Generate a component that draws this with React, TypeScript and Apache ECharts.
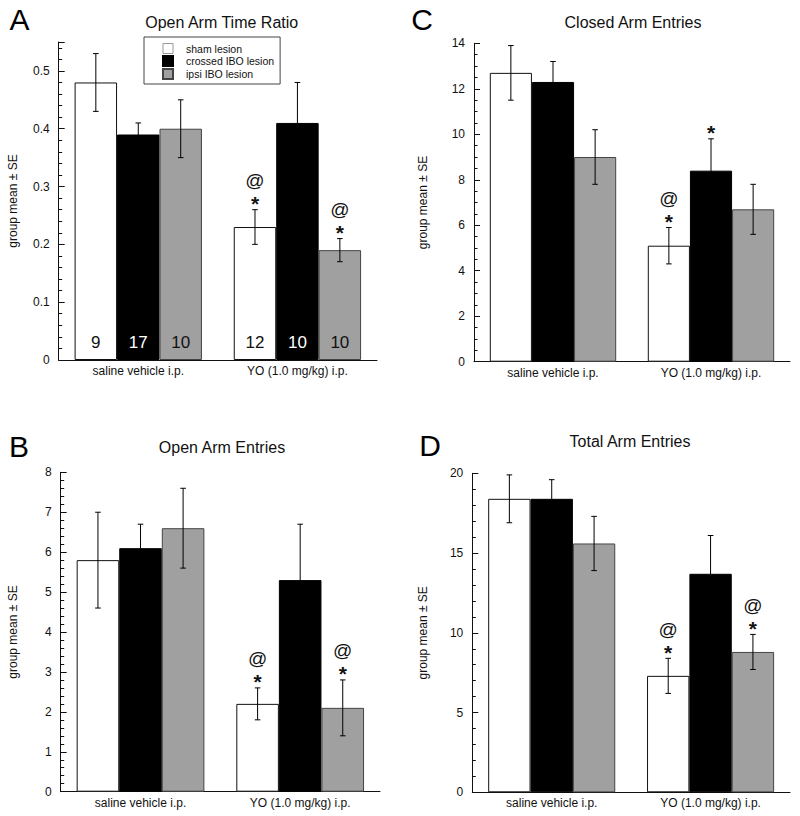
import React, { useEffect, useRef } from "react";
import * as echarts from "echarts";

const categories = ["saline vehicle i.p.", "YO (1.0 mg/kg) i.p."];
const groups = ["sham lesion", "crossed IBO lesion", "ipsi IBO lesion"];

// Panel A: Open Arm Time Ratio
const aMeans = [[0.48, 0.23], [0.39, 0.41], [0.40, 0.19]];
const aSE = [[0.05, 0.03], [0.02, 0.07], [0.05, 0.02]];
const aN = [[9, 12], [17, 10], [10, 10]];
const aMarks = [["", "@*"], ["", ""], ["", "@*"]];

// Panel C: Closed Arm Entries
const cMeans = [[12.7, 5.1], [12.3, 8.4], [9.0, 6.7]];
const cSE = [[1.2, 0.8], [0.9, 1.4], [1.2, 1.1]];
const cMarks = [["", "@*"], ["", "*"], ["", ""]];

// Panel B: Open Arm Entries
const bMeans = [[5.8, 2.2], [6.1, 5.3], [6.6, 2.1]];
const bSE = [[1.2, 0.4], [0.6, 1.4], [1.0, 0.7]];
const bMarks = [["", "@*"], ["", ""], ["", "@*"]];

// Panel D: Total Arm Entries
const dMeans = [[18.4, 7.3], [18.4, 13.7], [15.6, 8.8]];
const dSE = [[1.5, 1.1], [1.2, 2.4], [1.7, 1.1]];
const dMarks = [["", "@*"], ["", ""], ["", "@*"]];

const FONT = "'Liberation Sans', Arial, Helvetica, sans-serif";
const groupFill = ["#ffffff", "#000000", "#a0a0a0"];
const groupBorder = ["#111111", "#000000", "#444444"];
const nLabelColor = ["#111111", "#ffffff", "#111111"];

type Panel = {
  letter: string;
  title: string;
  grid: { left: number; top: number; width: number; height: number };
  max: number;
  interval: number;
  minorSplit: number;
  decimals: number;
  nameGap: number;
  means: number[][];
  se: number[][];
  marks: string[][];
  n?: number[][];
  letterPos: [number, number];
  titlePos: [number, number];
};

const panels: Panel[] = [
  {
    letter: "A", title: "Open Arm Time Ratio",
    grid: { left: 58.7, top: 42, width: 318.3, height: 318 },
    max: 0.55, interval: 0.1, minorSplit: 5, decimals: 1, nameGap: 40,
    means: aMeans, se: aSE, marks: aMarks, n: aN,
    letterPos: [19.5, 19.5], titlePos: [221.7, 22.5],
  },
  {
    letter: "C", title: "Closed Arm Entries",
    grid: { left: 474, top: 43.3, width: 316, height: 318.4 },
    max: 14, interval: 2, minorSplit: 4, decimals: 0, nameGap: 45,
    means: cMeans, se: cSE, marks: cMarks,
    letterPos: [422, 19.5], titlePos: [633, 22],
  },
  {
    letter: "B", title: "Open Arm Entries",
    grid: { left: 60.7, top: 472.3, width: 319.3, height: 319.4 },
    max: 8, interval: 1, minorSplit: 5, decimals: 0, nameGap: 42,
    means: bMeans, se: bSE, marks: bMarks,
    letterPos: [19, 446], titlePos: [222, 447.5],
  },
  {
    letter: "D", title: "Total Arm Entries",
    grid: { left: 472.3, top: 473.3, width: 317.7, height: 319 },
    max: 20, interval: 5, minorSplit: 5, decimals: 0, nameGap: 43,
    means: dMeans, se: dSE, marks: dMarks,
    letterPos: [430, 445], titlePos: [630, 441],
  },
];

function buildOption() {
  const grids: any[] = [];
  const xAxes: any[] = [];
  const yAxes: any[] = [];
  const series: any[] = [];
  const graphics: any[] = [];

  panels.forEach((p, pi) => {
    grids.push({ ...p.grid, containLabel: false });
    xAxes.push({
      type: "category",
      gridIndex: pi,
      data: categories,
      axisLine: { lineStyle: { color: "#111", width: 1 } },
      axisTick: { show: false },
      axisLabel: { color: "#111", fontSize: 12, fontFamily: FONT, margin: 5 },
    });
    yAxes.push({
      type: "value",
      gridIndex: pi,
      min: 0,
      max: p.max,
      interval: p.interval,
      name: "group mean ± SE",
      nameLocation: "middle",
      nameGap: p.nameGap,
      nameTextStyle: { color: "#111", fontSize: 12, fontFamily: FONT },
      axisLine: { show: true, lineStyle: { color: "#111", width: 1 } },
      axisTick: { show: true, inside: true, length: 6, lineStyle: { color: "#111" } },
      minorTick: { show: true, splitNumber: p.minorSplit, length: 3.5, lineStyle: { color: "#111" } },
      splitLine: { show: false },
      axisLabel: {
        color: "#111", fontSize: 12, fontFamily: FONT, margin: 9,
        formatter: (v: number) => {
          const k = v / p.interval;
          if (Math.abs(k - Math.round(k)) > 1e-6) return "";
          if (v === 0) return "0";
          return v.toFixed(p.decimals);
        },
      },
    });

    groups.forEach((g, gi) => {
      const s: any = {
        type: "bar",
        name: g,
        xAxisIndex: pi,
        yAxisIndex: pi,
        data: p.means[gi],
        barGap: "0%",
        barCategoryGap: "20%",
        itemStyle: { color: groupFill[gi], borderColor: groupBorder[gi], borderWidth: 1 },
        emphasis: { disabled: true },
        z: 2,
      };
      if (p.n) {
        const nArr = p.n[gi];
        s.label = {
          show: true,
          position: "insideBottom",
          distance: 9,
          formatter: (prm: any) => String(nArr[prm.dataIndex]),
          color: nLabelColor[gi],
          fontSize: 17,
          fontFamily: FONT,
        };
      }
      series.push(s);
    });

    const errData: number[][] = [];
    const markList: string[] = [];
    groups.forEach((_, gi) => {
      categories.forEach((__, ci) => {
        errData.push([ci, p.means[gi][ci], p.se[gi][ci], gi]);
        markList.push(p.marks[gi][ci]);
      });
    });

    series.push({
      type: "custom",
      name: "err" + pi,
      xAxisIndex: pi,
      yAxisIndex: pi,
      z: 5,
      silent: true,
      dimensions: ["cat", "mean", "se", "grp"],
      encode: { x: 0, y: 1 },
      data: errData,
      renderItem: (params: any, api: any) => {
        const c = api.value(0);
        const mean = api.value(1);
        const se = api.value(2);
        const g = api.value(3);
        const band = api.size([1, 0])[0];
        const bw = (band * 0.8) / 3;
        const cx = api.coord([c, 0])[0] - band * 0.4 + (g + 0.5) * bw;
        const yHi = api.coord([c, mean + se])[1];
        const yLo = api.coord([c, mean - se])[1];
        const cap = 2.8;
        const ls = { stroke: "#000", lineWidth: 1 };
        const children: any[] = [
          { type: "line", shape: { x1: cx, y1: yHi, x2: cx, y2: yLo }, style: ls },
          { type: "line", shape: { x1: cx - cap, y1: yHi, x2: cx + cap, y2: yHi }, style: ls },
          { type: "line", shape: { x1: cx - cap, y1: yLo, x2: cx + cap, y2: yLo }, style: ls },
        ];
        const mk = markList[params.dataIndex];
        if (mk.indexOf("*") >= 0) {
          children.push({
            type: "text",
            style: {
              text: "*", x: cx, y: yHi - 6, align: "center", verticalAlign: "middle",
              fontSize: 21, fontWeight: "bold", fontFamily: FONT, fill: "#111",
            },
          });
        }
        if (mk.indexOf("@") >= 0) {
          children.push({
            type: "text",
            style: {
              text: "@", x: cx, y: yHi - 29, align: "center", verticalAlign: "middle",
              fontSize: 19, fontFamily: FONT, fill: "#111",
            },
          });
        }
        return { type: "group", children };
      },
    });

    graphics.push({
      type: "text",
      x: p.letterPos[0],
      y: p.letterPos[1],
      style: {
        text: p.letter, fontSize: 30, fontFamily: FONT, fill: "#000",
        align: "center", verticalAlign: "middle",
      },
    });
    graphics.push({
      type: "text",
      x: p.titlePos[0],
      y: p.titlePos[1],
      style: {
        text: p.title, fontSize: 16, fontFamily: FONT, fill: "#111",
        align: "center", verticalAlign: "middle",
      },
    });
  });

  return {
    animation: false,
    backgroundColor: "#ffffff",
    textStyle: { fontFamily: FONT },
    grid: grids,
    xAxis: xAxes,
    yAxis: yAxes,
    series,
    graphic: graphics,
    legend: {
      data: groups.map((g, gi) => ({
        name: g,
        itemStyle: gi === 0 ? { color: "#fff", borderColor: "#999", borderWidth: 1 } : undefined,
      })),
      left: 144,
      top: 37,
      orient: "vertical",
      icon: "rect",
      itemWidth: 10,
      itemHeight: 10,
      itemGap: 1,
      padding: [6, 6, 4, 18],
      borderColor: "#444",
      borderWidth: 1,
      backgroundColor: "#fff",
      selectedMode: false,
      textStyle: { fontSize: 10.5, color: "#111", fontFamily: FONT, padding: [0, 0, 0, 8], lineHeight: 11 },
    },
  };
}

export default function App() {
  const ref = useRef<HTMLDivElement>(null);
  useEffect(() => {
    if (!ref.current) return;
    const chart = echarts.init(ref.current, undefined, { renderer: "svg" });
    chart.setOption(buildOption() as any);
    return () => chart.dispose();
  }, []);
  return (
    <div
      ref={ref}
      style={{ position: "absolute", left: 0, top: 0, width: 800, height: 816, background: "#fff" }}
    />
  );
}
